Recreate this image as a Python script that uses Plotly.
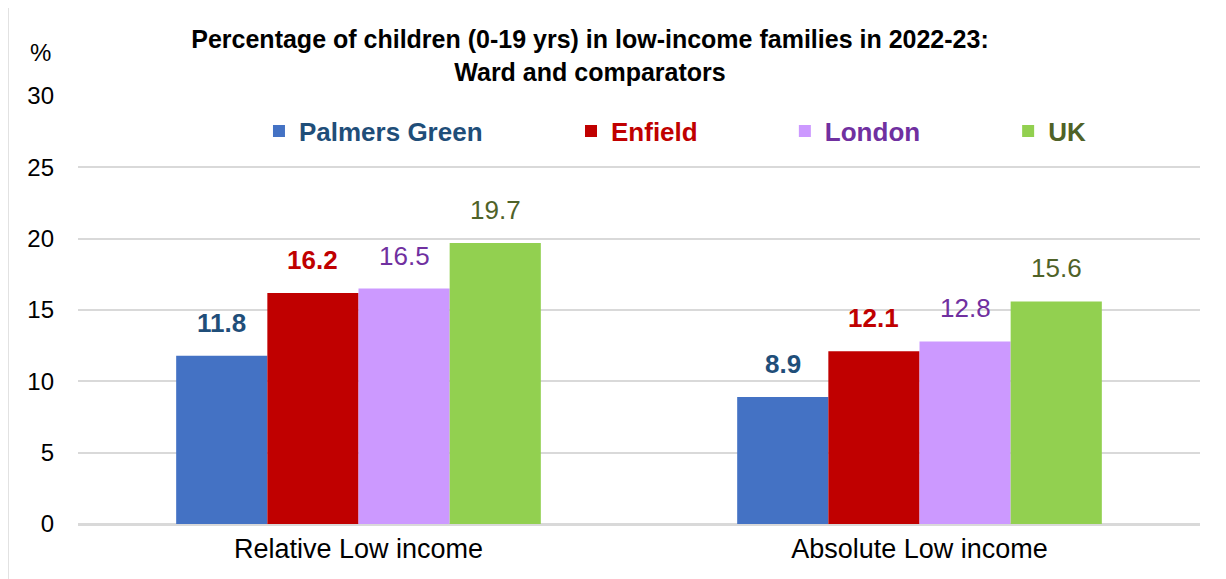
import plotly.graph_objects as go

categories = ["Relative Low income", "Absolute Low income"]
series_names = ["Palmers Green", "Enfield", "London", "UK"]
palmers_green = [11.8, 8.9]
enfield = [16.2, 12.1]
london = [16.5, 12.8]
uk = [19.7, 15.6]
y_ticks = [0, 5, 10, 15, 20, 25, 30]

values = [palmers_green, enfield, london, uk]
bar_colors = ["#4472C4", "#C00000", "#CC99FF", "#92D050"]
text_colors = ["#1F4E79", "#C00000", "#7030A0", "#4F6228"]
label_bold = [True, True, False, False]
legend_ids = ["legend", "legend2", "legend3", "legend4"]
legend_x = [0.1613, 0.4394, 0.630, 0.829]

FONT = "Liberation Sans, Arial, sans-serif"
bargap = 0.35

fig = go.Figure()
for i, (name, vals) in enumerate(zip(series_names, values)):
    fig.add_trace(go.Bar(
        x=categories, y=vals, name=name,
        marker=dict(color=bar_colors[i], line=dict(width=0)),
        legend=legend_ids[i], showlegend=True,
    ))

# data labels via annotations
n = len(series_names)
bw = (1 - bargap) / n
annotations = []
for i, vals in enumerate(values):
    for j, v in enumerate(vals):
        xo = j - (1 - bargap) / 2 + bw * (i + 0.5)
        txt = f"<b>{v:.1f}</b>" if label_bold[i] else f"{v:.1f}"
        annotations.append(dict(
            x=xo, y=v, xref="x", yref="y", text=txt, showarrow=False,
            xanchor="center", yanchor="bottom", yshift=16,
            font=dict(family=FONT, size=26, color=text_colors[i]),
        ))

annotations.append(dict(
    x=(40 - 78) / 1122, y=(524 - 52) / 428, xref="paper", yref="paper",
    xanchor="center", yanchor="middle", text="%", showarrow=False,
    font=dict(family=FONT, size=24, color="#000000"),
))

layout_legends = {}
for i, lid in enumerate(legend_ids):
    layout_legends[lid] = dict(
        x=legend_x[i], y=(524 - 131) / 428, xanchor="left", yanchor="middle",
        orientation="h", bgcolor="rgba(0,0,0,0)",
        font=dict(family=FONT, size=26, color=text_colors[i], weight="bold"),
        itemwidth=30, visible=True,
    )

fig.update_layout(
    width=1226, height=579,
    showlegend=True,
    margin=dict(l=70, r=34, t=88, b=63),
    paper_bgcolor="white", plot_bgcolor="white",
    barmode="group", bargap=bargap, bargroupgap=0,
    title=dict(
        text="Percentage of children (0-19 yrs) in low-income families in 2022-23:<br>Ward and comparators",
        x=582 / 1226, xanchor="center", y=1 - 40 / 579, yanchor="middle",
        xref="container", yref="container",
        font=dict(family=FONT, size=25, color="#000000", weight="bold"),
    ),
    xaxis=dict(
        showgrid=False, showline=True, linecolor="#D9D9D9", linewidth=1.5,
        tickfont=dict(family=FONT, size=27, color="#000000"),
        ticks="", ticklabelstandoff=0,
    ),
    yaxis=dict(
        range=[0, 30], tickvals=y_ticks, showgrid=True, gridcolor="#D9D9D9", gridwidth=1.5,
        zeroline=True, zerolinecolor="#D9D9D9", zerolinewidth=1.5,
        tickfont=dict(family=FONT, size=24, color="#000000"),
        ticks="", ticklabelstandoff=23, showline=False,
    ),
    annotations=annotations,
    shapes=[dict(
        type="rect", xref="paper", yref="paper",
        x0=(8 - 78) / 1122, x1=1.2, y0=-0.5, y1=(524 - 6) / 428,
        line=dict(color="#D9D9D9", width=1.5), fillcolor="rgba(0,0,0,0)", layer="below",
    )],
    **layout_legends,
)

fig.write_html("out.html")
